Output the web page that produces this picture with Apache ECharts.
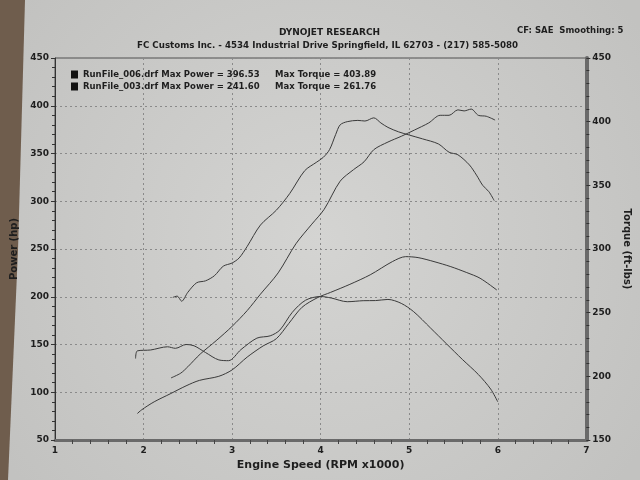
<!DOCTYPE html>
<html>
<head>
<meta charset="utf-8">
<script src="https://cdn.jsdelivr.net/npm/echarts@6/dist/echarts.min.js"></script>
<style>
  html, body { margin: 0; padding: 0; }
  #chart { width: 640px; height: 480px; }
</style>
</head>
<body>
<div id="chart"></div>
<script>
// engine speed (x1000 rpm) and readings, taken off the dyno sheet
const rpm006Torque = [2.33, 2.38, 2.43, 2.5, 2.6, 2.7, 2.8, 2.9, 3.0, 3.08, 3.17, 3.32, 3.5, 3.65, 3.82, 3.95, 4.03, 4.1, 4.17, 4.22, 4.3, 4.42, 4.5, 4.6, 4.68, 4.76, 4.88, 5.0, 5.15, 5.33, 5.45, 5.55, 5.68, 5.76, 5.83, 5.9, 5.96]
const torque006 = [262, 263, 259, 266, 273.5, 275, 279, 286.5, 289, 293, 302, 318.8, 330.5, 343.5, 361.5, 368, 372, 378, 390, 397.5, 400, 401, 400.5, 403, 399, 395.5, 392, 389.5, 386.5, 382.5, 376, 374, 366, 358, 350, 345, 338]

const rpm006Power = [2.31, 2.42, 2.5, 2.64, 2.82, 3.0, 3.17, 3.32, 3.52, 3.72, 3.9, 4.04, 4.22, 4.37, 4.49, 4.6, 4.76, 4.91, 5.06, 5.22, 5.35, 5.45, 5.55, 5.62, 5.7, 5.78, 5.87, 5.97]
const power006 = [115, 120, 126.7, 140, 154, 169, 185.5, 202.7, 225, 255.4, 276, 291.6, 321, 333, 341.3, 354, 362, 368, 374.6, 382, 390, 390, 395.7, 394.6, 396.5, 390, 389, 385]

const rpm003Power = [1.93, 1.98, 2.12, 2.3, 2.48, 2.63, 2.85, 3.0, 3.17, 3.35, 3.5, 3.64, 3.79, 3.97, 4.11, 4.33, 4.56, 4.81, 4.96, 5.1, 5.28, 5.47, 5.65, 5.8, 5.99]
const power003 = [77.7, 81.7, 90, 98.3, 106.7, 112.4, 116.7, 123.4, 136.8, 148.5, 156.1, 172, 189, 199.3, 204.5, 213, 223, 236.8, 242, 241, 236.8, 231.5, 225.3, 219.4, 207]

const rpm003Torque = [1.91, 1.93, 2.08, 2.27, 2.36, 2.48, 2.57, 2.7, 2.85, 2.96, 3.1, 3.28, 3.43, 3.54, 3.68, 3.83, 4.0, 4.12, 4.3, 4.48, 4.62, 4.76, 4.91, 5.05, 5.24, 5.42, 5.6, 5.78, 5.92, 6.0]
const torque003 = [214, 220, 220.7, 223.2, 222, 225, 224, 218.7, 212.9, 212.3, 221, 230, 231.8, 236.4, 250.3, 259.8, 262.7, 261.5, 258.6, 259.4, 259.5, 260.4, 257.3, 250.8, 238, 225.6, 213.3, 201.5, 190, 180]

const runNames = ['RunFile_006.drf', 'RunFile_003.drf']
const maxPower = ['396.53', '241.60']
const maxTorque = ['403.89', '261.76']

const xTicks = [1, 2, 3, 4, 5, 6, 7]

const pairs = (xs, ys) => xs.map((x, i) => [x, ys[i]])

const lineColor = '#3a3a3a'
const textColor = '#1e1e1e'
const font = 'DejaVu Sans'

const chart = echarts.init(document.getElementById('chart'))

function curve(name, xs, ys, axis) {
  return {
    name: name,
    type: 'line',
    yAxisIndex: axis,
    data: pairs(xs, ys),
    smooth: 0.3,
    showSymbol: false,
    animation: false,
    lineStyle: { color: lineColor, width: 1 },
    itemStyle: { color: '#111' }
  }
}

chart.setOption({
  backgroundColor: {
    type: 'radial', x: 0.5, y: 0.5, r: 0.8,
    colorStops: [{ offset: 0, color: '#d4d4d2' }, { offset: 1, color: '#c2c2c0' }]
  },
  textStyle: { fontFamily: font },
  graphic: [
    {
      type: 'polygon',
      shape: { points: [[0, 0], [25, 0], [18, 250], [8, 480], [0, 480]] },
      style: { fill: '#6f5d4d' },
      z: -1
    },
    {
      type: 'text', left: 279, top: 28,
      style: { text: 'DYNOJET RESEARCH', font: 'bold 9px ' + font, fill: textColor }
    },
    {
      type: 'text', left: 137, top: 41,
      style: { text: 'FC Customs Inc. - 4534 Industrial Drive Springfield, IL 62703 - (217) 585-5080', font: 'bold 8.7px ' + font, fill: textColor }
    },
    {
      type: 'text', left: 517, top: 26,
      style: { text: 'CF: SAE  Smoothing: 5', font: 'bold 8.5px ' + font, fill: textColor }
    }
  ],
  legend: {
    data: runNames,
    orient: 'vertical',
    left: 66,
    top: 65,
    itemWidth: 7,
    itemHeight: 8,
    itemGap: 3,
    icon: 'rect',
    selectedMode: false,
    formatter: name => {
      const i = runNames.indexOf(name)
      return '{a|' + name + ' Max Power = ' + maxPower[i] + '}{b|Max Torque = ' + maxTorque[i] + '}'
    },
    textStyle: {
      rich: {
        a: { width: 192, fontSize: 8.5, fontWeight: 'bold', color: textColor, fontFamily: font },
        b: { fontSize: 8.5, fontWeight: 'bold', color: textColor, fontFamily: font }
      }
    }
  },
  grid: { left: 55, right: 40, top: 58, bottom: 40, show: true, borderColor: '#505050', borderWidth: 1 },
  xAxis: {
    type: 'value',
    min: xTicks[0],
    max: xTicks[xTicks.length - 1],
    interval: 1,
    name: 'Engine Speed (RPM x1000)',
    nameLocation: 'middle',
    nameGap: 20,
    nameTextStyle: { fontSize: 11, fontWeight: 'bold', color: textColor },
    axisLine: { lineStyle: { color: '#6a6a6a', width: 3 } },
    axisTick: { show: false },
    minorTick: { show: true, splitNumber: 5, length: 4, lineStyle: { color: '#444' } },
    axisLabel: { fontSize: 9, fontWeight: 'bold', color: textColor, margin: 6 },
    splitLine: { show: true, lineStyle: { color: '#8a8a8a', type: [2, 3], width: 1 } }
  },
  yAxis: [
    {
      type: 'value',
      min: 50,
      max: 450,
      interval: 50,
      name: 'Power (hp)',
      nameLocation: 'middle',
      nameGap: 26,
      nameTextStyle: { fontSize: 10, fontWeight: 'bold', color: textColor },
      axisLine: { show: true, lineStyle: { color: '#333', width: 1 } },
      axisTick: { show: true, length: 4, lineStyle: { color: '#333' } },
      minorTick: { show: true, splitNumber: 5, length: 3, lineStyle: { color: '#333' } },
      axisLabel: { fontSize: 9, fontWeight: 'bold', color: textColor, margin: 6 },
      splitLine: { show: true, lineStyle: { color: '#8a8a8a', type: [2, 3], width: 1 } }
    },
    {
      type: 'value',
      min: 150,
      max: 450,
      interval: 50,
      position: 'right',
      name: 'Torque (ft-lbs)',
      nameLocation: 'middle',
      nameGap: 34,
      nameRotate: -90,
      nameTextStyle: { fontSize: 10, fontWeight: 'bold', color: textColor },
      axisLine: { show: true, lineStyle: { color: '#6a6a6a', width: 4 } },
      axisTick: { show: true, length: 4, lineStyle: { color: '#333' } },
      minorTick: { show: true, splitNumber: 5, length: 3, lineStyle: { color: '#333' } },
      axisLabel: { fontSize: 9, fontWeight: 'bold', color: textColor, margin: 6 },
      splitLine: { show: false }
    }
  ],
  series: [
    curve(runNames[0], rpm006Torque, torque006, 1),
    curve(runNames[0], rpm006Power, power006, 0),
    curve(runNames[1], rpm003Power, power003, 0),
    curve(runNames[1], rpm003Torque, torque003, 1)
  ]
})
</script>
</body>
</html>
